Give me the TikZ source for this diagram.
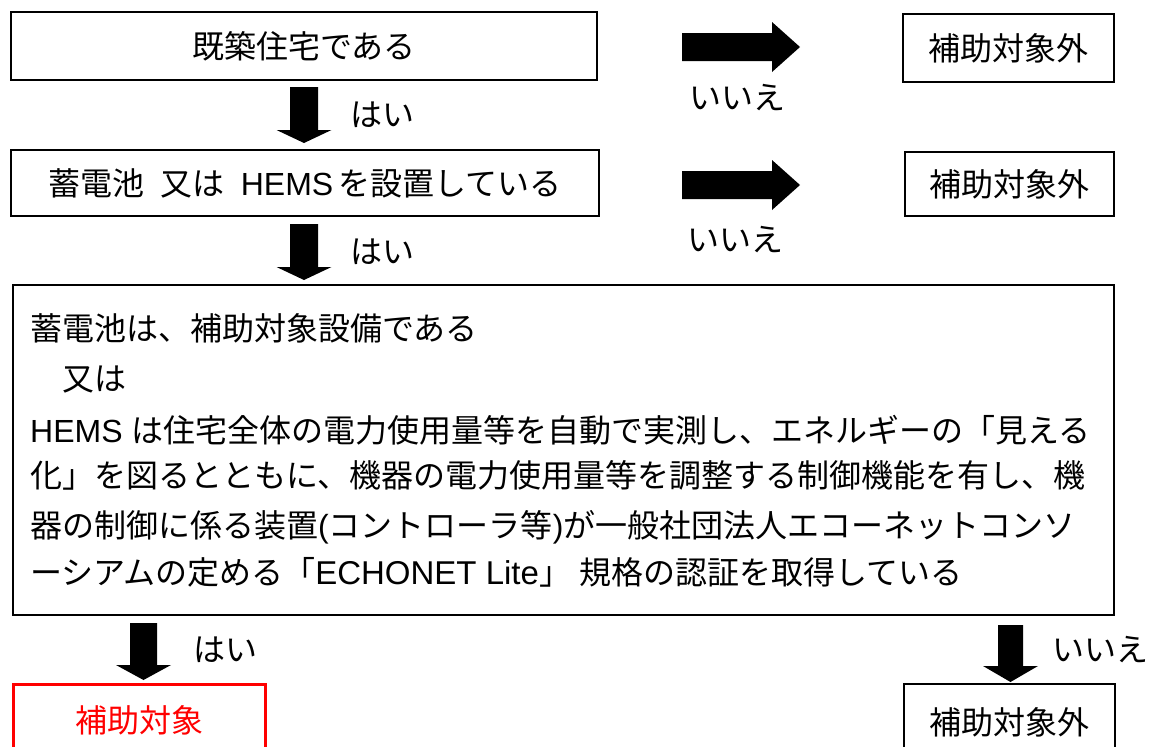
\documentclass[tikz,border=0pt]{standalone}
\usepackage{fontspec}
\setmainfont{Noto Sans CJK JP}
\newfontfamily\lat{Liberation Sans}
\newcommand\myRarrow[2]{\fill[shift={(#1,#2)}] (0,-14) -- (90,-14) -- (90,-25) -- (118,0) -- (90,25) -- (90,14) -- (0,14) -- cycle;}
\newcommand\myDarrow[6]{\fill[shift={(#1,#2)}] (-#3,0) -- (#3,0) -- (#3,#5) -- (#4,#5) -- (0,#6) -- (-#4,#5) -- (-#3,#5) -- cycle;}
\begin{document}
\begin{tikzpicture}[x=1pt,y=-1pt,
  box/.style={draw, line width=1.5pt, inner sep=0, font=\fontsize{32}{36}\selectfont},
  lbl/.style={font=\fontsize{32}{36}\selectfont, inner sep=0},
  txt/.style={font=\fontsize{32}{36}\selectfont, inner sep=0, anchor=base west}]
\useasboundingbox (0,0) rectangle (1154,747);
\clip (0,0) rectangle (1154,747);
% boxes
\node[box, minimum width=586, minimum height=68] (b1) at (304,46) {既築住宅である};
\node[box, minimum width=588, minimum height=66] (b2) at (305,183) {蓄電池\hspace{0.5em}又は\hspace{0.5em}{\lat HEMS}\hspace{0.15em}を設置している};
\node[box, minimum width=211, minimum height=68] (r1) at (1008.5,48) {補助対象外};
\node[box, minimum width=209, minimum height=64] (r2) at (1009.5,184) {補助対象外};
\node[box, minimum width=1101, minimum height=330] (big) at (563.5,450) {};
\node[box, draw=red, text=red, line width=3pt, minimum width=252, minimum height=72] (yes) at (139,720) {補助対象};
\node[box, minimum width=211, minimum height=76] (r3) at (1009.5,722) {補助対象外};
% big box text
\node[txt] (l1) at (30,340) {蓄電池は、補助対象設備である};
\node[txt] (l2) at (30,390) {　又は};
\node[txt] (l3) at (30,442) {{\lat HEMS }は住宅全体の電力使用量等を自動で実測し、エネルギーの「見える};
\node[txt] (l4) at (30,487) {化」を図るとともに、機器の電力使用量等を調整する制御機能を有し、機};
\node[txt] (l5) at (30,537) {器の制御に係る装置{\lat (}コントローラ等{\lat )}が一般社団法人エコーネットコンソ};
\node[txt] (l6) at (30,584) {ーシアムの定める「{\lat\fontsize{33}{36}\selectfont ECHONET Lite}」\hspace{0.25em}規格の認証を取得している};
% arrows
\myRarrow{682}{47}
\myRarrow{682}{185}
\myDarrow{304}{87}{14}{27.5}{43}{56}
\myDarrow{304}{224}{14}{27.5}{43}{56}
\myDarrow{143.5}{623}{13.5}{27.5}{42}{57}
\myDarrow{1010.5}{625}{12.5}{27.5}{41}{57}
% labels
\node[lbl] (y1) at (382,115) {はい};
\node[lbl] (y2) at (382,252) {はい};
\node[lbl] (y3) at (225,650) {はい};
\node[lbl] (n1) at (737,98) {いいえ};
\node[lbl] (n2) at (735,240) {いいえ};
\node[lbl] (n3) at (1100,650) {いいえ};
\end{tikzpicture}
\end{document}
